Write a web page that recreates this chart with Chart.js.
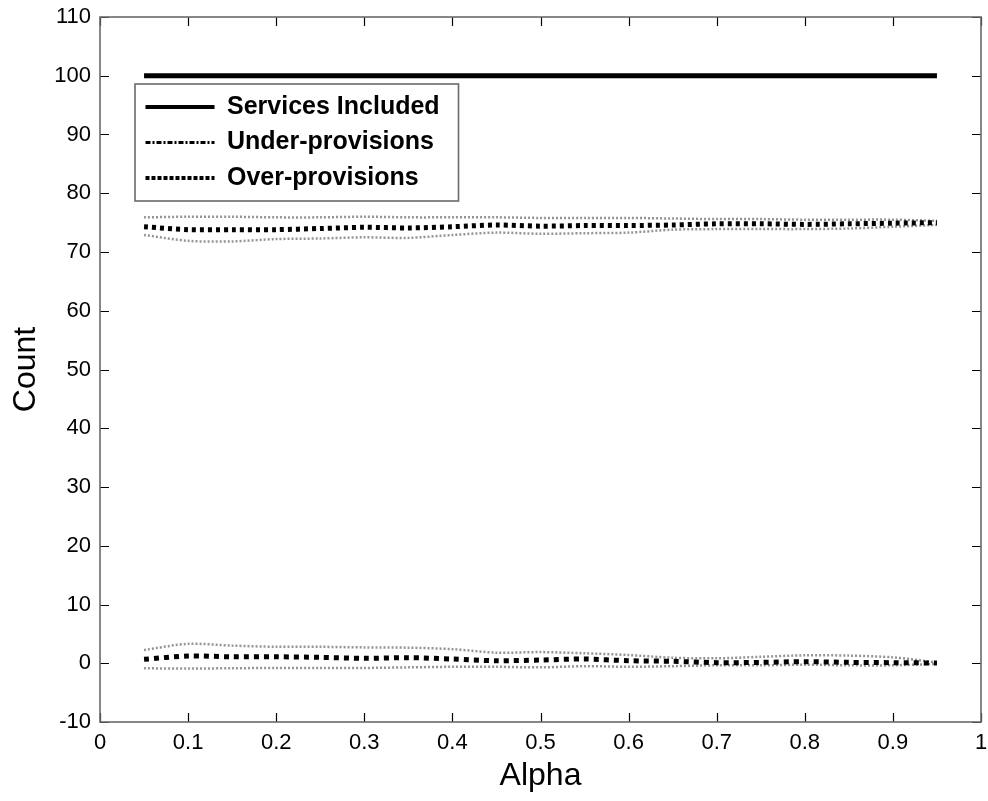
<!DOCTYPE html>
<html lang="en">
<head>
    <meta charset="UTF-8">
    <title>Count vs Alpha</title>
    <script src="https://cdn.jsdelivr.net/npm/chart.js"></script>
    <style>
        body { margin: 0; background: #fff; }
        #wrap { width: 988px; height: 801px; }
    </style>
</head>
<body>
    <div id="wrap"><canvas id="countChart"></canvas></div>
    <script>
        // alpha values the runs were done at
        const alpha = [0.05, 0.10, 0.15, 0.20, 0.25, 0.30, 0.35, 0.40, 0.45, 0.50,
                       0.55, 0.60, 0.65, 0.70, 0.75, 0.80, 0.85, 0.90, 0.95];

        const servicesIncluded = [100, 100, 100, 100, 100, 100, 100, 100, 100, 100,
                                  100, 100, 100, 100, 100, 100, 100, 100, 100];

        const underMean  = [74.3, 73.8, 73.8, 73.8, 74.0, 74.2, 74.1, 74.3, 74.6, 74.4,
                            74.5, 74.5, 74.6, 74.8, 74.8, 74.7, 74.8, 74.9, 75.0];
        const underHigh  = [75.9, 76.0, 76.0, 75.9, 75.9, 76.0, 75.9, 75.9, 75.9, 75.8,
                            75.8, 75.8, 75.7, 75.6, 75.6, 75.5, 75.5, 75.5, 75.3];
        const underLow   = [72.9, 71.9, 71.8, 72.2, 72.3, 72.5, 72.4, 72.9, 73.3, 73.1,
                            73.2, 73.3, 73.8, 73.9, 73.9, 73.9, 74.0, 74.3, 74.6];

        const overMean   = [0.67, 1.23, 1.1, 1.1, 1.0, 0.84, 0.95, 0.72, 0.43, 0.55,
                            0.72, 0.43, 0.33, 0.1, 0.15, 0.27, 0.15, 0.1, 0.04];
        const overHigh   = [2.26, 3.3, 3.0, 2.8, 2.8, 2.7, 2.65, 2.4, 1.8, 1.9,
                            1.7, 1.4, 0.94, 0.84, 1.1, 1.35, 1.3, 1.0, 0.15];
        const overLow    = [-0.86, -0.9, -0.85, -0.8, -0.8, -0.8, -0.7, -0.6, -0.6, -0.7,
                            -0.5, -0.6, -0.5, -0.35, -0.35, -0.25, -0.35, -0.35, -0.1];

        const xTicks = { min: 0, max: 1, step: 0.1 };
        const yTicks = { min: -10, max: 110, step: 10 };

        // how each series looks in the legend box
        const legendDash  = [[], [5, 2, 2, 2], [4, 2]];
        const legendWidth = [4, 3, 4];

        const pts = arr => arr.map((v, i) => ({ x: alpha[i], y: v }));
        const FONT = "'Liberation Sans', Arial, sans-serif";
        const band = {
            borderColor: 'rgba(0,0,0,0.42)',
            borderWidth: 2.5,
            borderDash: [2, 2],
            pointRadius: 0,
            fill: false,
            tension: 0.3
        };

        // MATLAB style axes box with inward ticks on all four sides
        const boxPlugin = {
            id: 'boxPlugin',
            afterLayout(chart) {
                const lg = chart.legend, a = chart.chartArea;
                lg.left = a.left + 35;
                lg.top = a.top + 67;
            },
            afterDraw(chart) {
                const ctx = chart.ctx, a = chart.chartArea;
                const xs = chart.scales.x, ys = chart.scales.y;
                const len = 9;
                ctx.save();
                ctx.strokeStyle = '#000';
                ctx.lineWidth = 1.2;
                ctx.beginPath();
                xs.ticks.forEach(t => {
                    const px = Math.round(xs.getPixelForValue(t.value)) + 0.5;
                    ctx.moveTo(px, a.bottom); ctx.lineTo(px, a.bottom - len);
                    ctx.moveTo(px, a.top); ctx.lineTo(px, a.top + len);
                });
                ys.ticks.forEach(t => {
                    const py = Math.round(ys.getPixelForValue(t.value)) + 0.5;
                    ctx.moveTo(a.left, py); ctx.lineTo(a.left + len, py);
                    ctx.moveTo(a.right, py); ctx.lineTo(a.right - len, py);
                });
                ctx.stroke();
                ctx.strokeStyle = '#6a6a6a';
                ctx.lineWidth = 1.6;
                ctx.strokeRect(a.left, a.top, a.right - a.left, a.bottom - a.top);

                // legend frame
                const lg = chart.legend;
                const lo = chart.options.plugins.legend.labels;
                const n = lg.legendItems.length;
                const fs = lo.font.size, pad = lo.padding;
                const w = pad + lo.pointStyleWidth + fs / 2 + 215 + pad + 6;
                const h = pad + n * (fs + pad);
                ctx.strokeRect(lg.left, lg.top, w, h);
                ctx.restore();
            }
        };

        const ctx = document.getElementById('countChart').getContext('2d');
        new Chart(ctx, {
            type: 'line',
            data: {
                datasets: [
                    { label: 'Services Included', data: pts(servicesIncluded), borderColor: '#000',
                      borderWidth: 5, pointRadius: 0, fill: false },
                    { label: 'Under-provisions', data: pts(underMean), borderColor: '#000',
                      borderWidth: 5, borderDash: [4, 4], pointRadius: 0, fill: false, tension: 0.3 },
                    { label: 'Over-provisions', data: pts(overMean), borderColor: '#000',
                      borderWidth: 5, borderDash: [5, 5], pointRadius: 0, fill: false, tension: 0.3 },
                    Object.assign({ label: 'under high', data: pts(underHigh) }, band),
                    Object.assign({ label: 'under low', data: pts(underLow) }, band),
                    Object.assign({ label: 'over high', data: pts(overHigh) }, band),
                    Object.assign({ label: 'over low', data: pts(overLow) }, band)
                ]
            },
            options: {
                responsive: true,
                maintainAspectRatio: false,
                animation: false,
                layout: { padding: { top: 17, right: 7, left: 0, bottom: 0 } },
                plugins: {
                    tooltip: { enabled: false },
                    legend: {
                        position: 'chartArea',
                        align: 'start',
                        labels: {
                            filter: item => item.datasetIndex < 3,
                            generateLabels(chart) {
                                const items = Chart.defaults.plugins.legend.labels.generateLabels(chart);
                                items.forEach(it => {
                                    const k = it.datasetIndex;
                                    if (k < 3) {
                                        it.lineDash = legendDash[k];
                                        it.lineWidth = legendWidth[k];
                                        it.strokeStyle = '#000';
                                    }
                                });
                                return items;
                            },
                            usePointStyle: true,
                            pointStyle: 'line',
                            pointStyleWidth: 69,
                            padding: 10.5,
                            color: '#000',
                            font: { family: FONT, size: 25, weight: 'bold' }
                        }
                    }
                },
                scales: {
                    x: {
                        type: 'linear',
                        min: xTicks.min,
                        max: xTicks.max,
                        grid: { display: false, drawTicks: false },
                        border: { display: false },
                        ticks: { stepSize: xTicks.step, padding: 8, color: '#000', maxRotation: 0,
                                 callback: v => String(+v.toFixed(1)),
                                 font: { family: FONT, size: 22 } },
                        title: { display: true, text: 'Alpha', color: '#000',
                                 padding: { top: 0, bottom: 6 },
                                 font: { family: FONT, size: 32 } },
                        afterFit: s => { s.height = 79; s.paddingLeft = 0; s.paddingRight = 0; }
                    },
                    y: {
                        min: yTicks.min,
                        max: yTicks.max,
                        grid: { display: false, drawTicks: false },
                        border: { display: false },
                        ticks: { stepSize: yTicks.step, padding: 9, color: '#000',
                                 font: { family: FONT, size: 22 } },
                        title: { display: true, text: 'Count', color: '#000',
                                 padding: { top: 7, bottom: 0 },
                                 font: { family: FONT, size: 32 } },
                        afterFit: s => { s.width = 100; s.paddingTop = 0; s.paddingBottom = 0; }
                    }
                }
            },
            plugins: [boxPlugin]
        });
    </script>
</body>
</html>
